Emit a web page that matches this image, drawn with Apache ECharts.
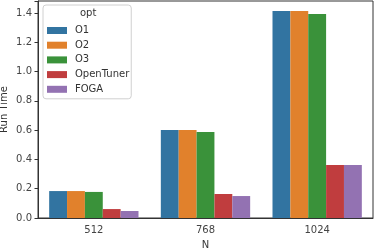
<!DOCTYPE html>
<html><head><meta charset="utf-8">
<script src="https://cdn.jsdelivr.net/npm/echarts@6/dist/echarts.min.js"></script>
<style>html,body{margin:0;padding:0;background:#fff}#c{width:374px;height:248px}</style>
</head><body><div id="c"></div>
<script>
const categories = ['512', '768', '1024'];
const seriesNames = ['O1', 'O2', 'O3', 'OpenTuner', 'FOGA'];
const O1 = [0.184, 0.601, 1.414];
const O2 = [0.184, 0.601, 1.414];
const O3 = [0.178, 0.587, 1.393];
const OpenTuner = [0.061, 0.164, 0.362];
const FOGA = [0.048, 0.150, 0.362];
const yTicks = [0.0, 0.2, 0.4, 0.6, 0.8, 1.0, 1.2, 1.4];
const colors = ['#3274a1', '#e1812c', '#3a923a', '#c03d3e', '#9372b2'];
const values = [O1, O2, O3, OpenTuner, FOGA];

const chart = echarts.init(document.getElementById('c'), null, {renderer: 'canvas'});
const font = 'DejaVu Sans';
chart.setOption({
  animation: false,
  textStyle: {fontFamily: font},
  grid: {left: 38, right: 1, top: 1, bottom: 30, show: true, borderColor: '#333', borderWidth: 1,
         containLabel: false, outerBoundsMode: 'none'},
  xAxis: {
    type: 'category', data: categories, name: 'N', nameLocation: 'middle', nameGap: 22,
    nameMoveOverlap: false,
    nameTextStyle: {fontSize: 10, color: '#333', fontFamily: font},
    axisLine: {lineStyle: {color: '#333'}},
    axisTick: {alignWithLabel: true, length: 3.5, lineStyle: {color: '#333'}},
    axisLabel: {fontSize: 10, color: '#444', margin: 7, fontFamily: font}
  },
  yAxis: {
    type: 'value', min: 0, max: 1.482, interval: 0.2,
    name: 'Run Time', nameLocation: 'middle', nameGap: 29, nameRotate: 90,
    nameMoveOverlap: false,
    nameTextStyle: {fontSize: 10, color: '#333', fontFamily: font},
    axisLine: {show: true, lineStyle: {color: '#333'}},
    axisTick: {show: true, length: 3.5, lineStyle: {color: '#333'}},
    splitLine: {show: false},
    axisLabel: {fontSize: 10, color: '#444', margin: 6, fontFamily: font,
      formatter: v => (yTicks.some(t => Math.abs(t - v) < 1e-6) ? v.toFixed(1) : '')},
    showMaxLabel: false
  },
  legend: {
    orient: 'vertical', left: 43, top: 5,
    data: seriesNames,
    itemWidth: 20, itemHeight: 7, itemGap: 3.7,
    padding: [20, 2, 4, 4],
    borderColor: '#d0d0d0', borderWidth: 1, borderRadius: 3,
    backgroundColor: 'rgba(255,255,255,0.8)',
    icon: 'rect',
    textStyle: {fontSize: 10, color: '#333', fontFamily: font, padding: [0, 0, 0, 3], lineHeight: 11}
  },
  graphic: [{type: 'text', left: 80, top: 8, z: 100, style: {text: 'opt', fontSize: 10, fill: '#333', fontFamily: font}}],
  series: seriesNames.map((n, i) => ({
    name: n, type: 'bar', data: values[i],
    itemStyle: {color: colors[i]},
    barGap: '0%', barCategoryGap: '20%'
  }))
});
</script></body></html>
